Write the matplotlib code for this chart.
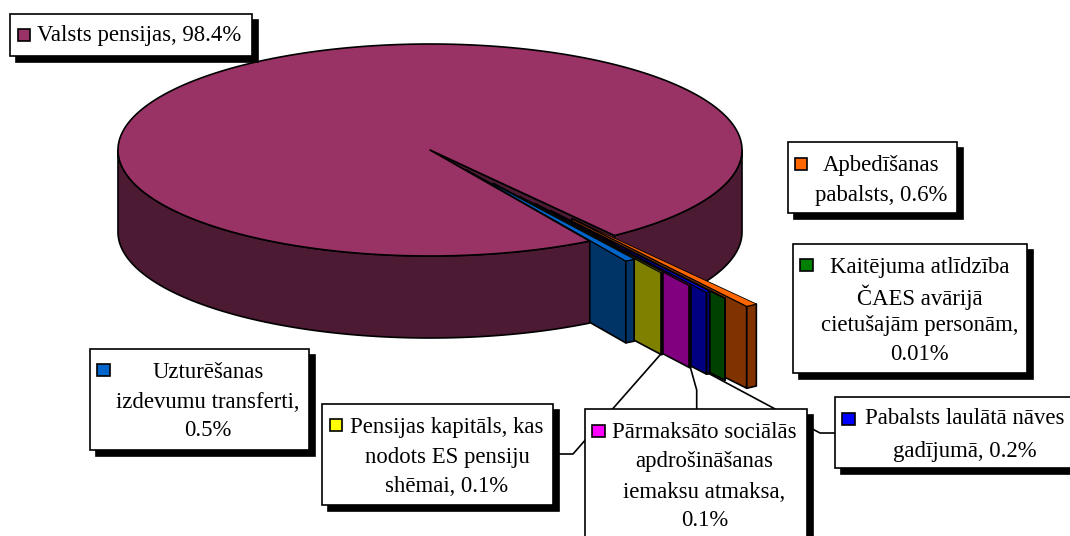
import numpy as np
import matplotlib
matplotlib.use('Agg')
import matplotlib.pyplot as plt
from matplotlib.patches import Polygon, Rectangle

plt.rcParams['font.family'] = ['Liberation Serif', 'DejaVu Serif']

# data, main slice first and then the small ones going round the pie
names = ['Valsts pensijas', 'Uzturēšanas izdevumu transferti', 'Pensijas kapitāls, kas nodots ES pensiju shēmai',
         'Pārmaksāto sociālās apdrošināšanas iemaksu atmaksa', 'Pabalsts laulātā nāves gadījumā',
         'Kaitējuma atlīdzība ČAES avārijā cietušajām personām', 'Apbedīšanas pabalsts']
values = [98.4, 0.5, 0.1, 0.1, 0.2, 0.01, 0.6]
explode = [0, 0.22, 0.374, 0.525, 0.608, 0.689, 0.79]
colors = ['#993366', '#0066CC', '#FFFF00', '#FF00FF', '#0000FF', '#008000', '#FF6600']

# label text, one entry for each slice
labelLines = [['Valsts pensijas, 98.4%'],
              ['Uzturēšanas', 'izdevumu transferti,', '0.5%'],
              ['Pensijas kapitāls, kas', 'nodots ES pensiju', 'shēmai, 0.1%'],
              ['Pārmaksāto sociālās', 'apdrošināšanas', 'iemaksu atmaksa,', '0.1%'],
              ['Pabalsts laulātā nāves', 'gadījumā, 0.2%'],
              ['Kaitējuma atlīdzība', 'ČAES avārijā', 'cietušajām personām,', '0.01%'],
              ['Apbedīšanas', 'pabalsts, 0.6%']]

# layout in pixels: box (x0, y0, x1, y1), text centre x, text line y's, key corner
boxes = [(10, 14, 252, 56), (89.5, 348.5, 308.5, 450), (322, 403.5, 553, 505), (585, 409, 807, 560),
         (835, 396.5, 1090, 468), (792.5, 243.5, 1027, 373), (787.5, 142, 956.5, 213)]
textX = [139, 208, 447, 704.5, 965, 919.5, 881]
textY = [[36], [373, 402.5, 431], [427, 457, 487], [433, 462, 492.5, 520], [419, 451],
         [267.5, 297, 326, 355], [165, 195]]
keys = [(17.5, 29), (97, 364), (329.5, 419), (592, 424.5), (842, 413), (800, 259), (794.5, 157.5)]
leaders = [[(660, 355), (573, 454), (553, 454)],
           [(689.7, 365), (696.7, 390), (696.7, 409)],
           [(706, 372), (820, 433), (835, 433)]]

cx, cy = 430, 150
rx, ry = 312, 106
depth = 82
startAngle = -59.2  # where the small slices begin, degrees
edgeWidth = 1.2


def point(angle, scale=1.0, off=(0, 0)):
    a = np.radians(angle)
    return (cx + off[0] + rx * scale * np.cos(a), cy + off[1] - ry * scale * np.sin(a))


def arc(a0, a1, off=(0, 0)):
    n = max(2, int(abs(a1 - a0) * 2) + 2)
    return [point(a, 1.0, off) for a in np.linspace(a0, a1, n)]


def shade(color):
    rgb = np.array(matplotlib.colors.to_rgb(color)) / 2
    return tuple(rgb)


def addPoly(ax, pts, color, z, lw=edgeWidth):
    ax.add_patch(Polygon(pts, closed=True, facecolor=color, edgecolor='black', linewidth=lw,
                         joinstyle='round', zorder=z))


def wall(a0, a1, off=(0, 0)):
    top = arc(a0, a1, off)
    bottom = [(x, y + depth) for x, y in top]
    return top + bottom[::-1]


def cutFace(angle, off=(0, 0)):
    inner = (cx + off[0], cy + off[1])
    rim = point(angle, 1.0, off)
    return [inner, rim, (rim[0], rim[1] + depth), (inner[0], inner[1] + depth)]


fig = plt.figure(figsize=(10.7, 5.36), dpi=100)
ax = fig.add_axes([0, 0, 1, 1])
ax.set_xlim(0, 1070)
ax.set_ylim(536, 0)
ax.axis('off')

sweeps = [v / 100 * 360 for v in values]
small = sweeps[1:]
edges = startAngle + np.concatenate([[0], np.cumsum(small)])
endAngle = edges[-1]

# far part of the big slice goes first
z = 1
addPoly(ax, wall(endAngle, 0), shade(colors[0]), z)
z += 1
addPoly(ax, cutFace(endAngle), shade(colors[0]), z)
z += 1

# small slices, from the one furthest out to the nearest
for i in range(len(small) - 1, -1, -1):
    a0, a1 = edges[i], edges[i + 1]
    mid = np.radians((a0 + a1) / 2)
    e = explode[i + 1]
    off = (rx * e * np.cos(mid), -ry * e * np.sin(mid))
    dark = shade(colors[i + 1])
    addPoly(ax, cutFace(a0, off), dark, z)
    addPoly(ax, wall(a0, a1, off), dark, z + 1)
    # thin line here or the narrow tops fill up with black
    addPoly(ax, [(cx + off[0], cy + off[1])] + arc(a0, a1, off), colors[i + 1], z + 2, lw=0.6)
    z += 3

# near part of the big slice and then its top
addPoly(ax, wall(-180, startAngle), shade(colors[0]), z)
z += 1
addPoly(ax, [(cx, cy)] + arc(endAngle, startAngle + 360), colors[0], z)
z += 1

for line in leaders:
    xs, ys = zip(*line)
    ax.plot(xs, ys, color='black', linewidth=edgeWidth, zorder=z)
z += 1

shadow = 6
for i in range(len(names)):
    x0, y0, x1, y1 = boxes[i]
    ax.add_patch(Rectangle((x0 + shadow, y0 + shadow), x1 - x0, y1 - y0, facecolor='black',
                           edgecolor='black', linewidth=edgeWidth, zorder=z))
    ax.add_patch(Rectangle((x0, y0), x1 - x0, y1 - y0, facecolor='white', edgecolor='black',
                           linewidth=edgeWidth, zorder=z + 1))
    ax.add_patch(Rectangle(keys[i], 12.5, 12, facecolor=colors[i], edgecolor='black',
                           linewidth=edgeWidth, zorder=z + 2))
    for line, y in zip(labelLines[i], textY[i]):
        ax.text(textX[i], y, line, ha='center', va='center', fontsize=16.4, color='black', zorder=z + 2)
    z += 3

fig.savefig('out.png', dpi=100)
